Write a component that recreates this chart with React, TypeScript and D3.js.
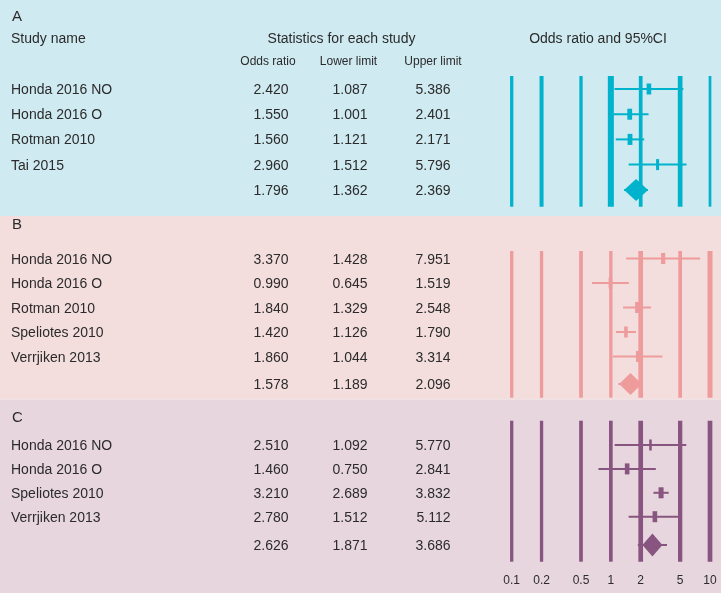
import React from "react";
import * as d3 from "d3";

// ---------- DATA ----------
const tickValues = [0.1, 0.2, 0.5, 1, 2, 5, 10];
const tickLabels = ["0.1", "0.2", "0.5", "1", "2", "5", "10"];

const studiesA = ["Honda 2016 NO", "Honda 2016 O", "Rotman 2010", "Tai 2015"];
const orA = [2.42, 1.55, 1.56, 2.96];
const lowerA = [1.087, 1.001, 1.121, 1.512];
const upperA = [5.386, 2.401, 2.171, 5.796];
const weightA = [23, 24, 24, 15];
const summaryA = [1.796, 1.362, 2.369];

const studiesB = ["Honda 2016 NO", "Honda 2016 O", "Rotman 2010", "Speliotes 2010", "Verrjiken 2013"];
const orB = [3.37, 0.99, 1.84, 1.42, 1.86];
const lowerB = [1.428, 0.645, 1.329, 1.126, 1.044];
const upperB = [7.951, 1.519, 2.548, 1.79, 3.314];
const weightB = [21, 18, 20, 18, 16];
const summaryB = [1.578, 1.189, 2.096];

const studiesC = ["Honda 2016 NO", "Honda 2016 O", "Speliotes 2010", "Verrjiken 2013"];
const orC = [2.51, 1.46, 3.21, 2.78];
const lowerC = [1.092, 0.75, 2.689, 1.512];
const upperC = [5.77, 2.841, 3.832, 5.112];
const weightC = [13, 23, 25, 23];
const summaryC = [2.626, 1.871, 3.686];

const panelLetters = ["A", "B", "C"];

// ---------- LAYOUT / STYLE ----------
const W = 721;
const H = 593;
const FONT = "'Liberation Sans', Arial, Helvetica, sans-serif";
const TEXT = "#2b2b2b";

const x = d3.scaleLog().domain([0.1, 10]).range([511.7, 710]);
const boxW = d3.scaleLinear().domain([0, 100]).range([0, 20]);
const fmt = d3.format(".3f");

const panels = [
  {
    letter: panelLetters[0], studies: studiesA, or: orA, lo: lowerA, hi: upperA, w: weightA, sum: summaryA,
    top: 0, bottom: 216, letterY: 20.7, firstRow: 89, step: 25.2, sumY: 190, lineTop: 76, lineBottom: 206.7,
    bg: "#cfeaf1", color: "#00b3cc", tickW: [3.3, 4, 3.3, 6, 3.7, 4.7, 2.7], dw: 12, dh: 11,
  },
  {
    letter: panelLetters[1], studies: studiesB, or: orB, lo: lowerB, hi: upperB, w: weightB, sum: summaryB,
    top: 216, bottom: 399.5, letterY: 228.5, firstRow: 258.5, step: 24.5, sumY: 384, lineTop: 251, lineBottom: 397.7,
    bg: "#f4dedd", color: "#ee9b9c", tickW: [3.3, 3.3, 3.7, 3.3, 4.7, 3.7, 5], dw: 11.3, dh: 11,
  },
  {
    letter: panelLetters[2], studies: studiesC, or: orC, lo: lowerC, hi: upperC, w: weightC, sum: summaryC,
    top: 399.5, bottom: 593, letterY: 421.5, firstRow: 445, step: 23.9, sumY: 545, lineTop: 420.7, lineBottom: 561.7,
    bg: "#e8d6df", color: "#87557f", tickW: [3.3, 3.3, 3.7, 3.7, 4.7, 4.3, 4.7], dw: 10, dh: 11.5,
  },
];

const colRight = [288.5, 367.5, 450.5];

function Panel({ p, isFirst, isLast }: { p: any; isFirst: boolean; isLast: boolean }) {
  const y = d3.scaleLinear().domain([0, 1]).range([p.firstRow, p.firstRow + p.step]);
  const rows = p.studies.map((name: string, i: number) => ({
    name,
    or: p.or[i],
    lo: p.lo[i],
    hi: p.hi[i],
    w: p.w[i],
    cy: y(i),
  }));
  const [sOr, sLo, sHi] = p.sum;
  const sx = x(sOr);
  return (
    <g>
      <rect x={0} y={p.top} width={W} height={p.bottom - p.top} fill={p.bg} />
      <text x={12} y={p.letterY} fontSize={15} fill={TEXT}>{p.letter}</text>
      {isFirst && (
        <g>
          <text x={11} y={43} fontSize={14} fill={TEXT}>Study name</text>
          <text x={341.5} y={43} fontSize={14} fill={TEXT} textAnchor="middle">Statistics for each study</text>
          <text x={268} y={64.5} fontSize={12} fill={TEXT} textAnchor="middle">Odds ratio</text>
          <text x={348.5} y={64.5} fontSize={12} fill={TEXT} textAnchor="middle">Lower limit</text>
          <text x={433} y={64.5} fontSize={12} fill={TEXT} textAnchor="middle">Upper limit</text>
          <text x={598} y={43.3} fontSize={14} fill={TEXT} textAnchor="middle">Odds ratio and 95%CI</text>
        </g>
      )}
      {/* reference lines */}
      {tickValues.map((t, i) => (
        <line key={"t" + i} x1={x(t)} x2={x(t)} y1={p.lineTop} y2={p.lineBottom}
          stroke={p.color} strokeWidth={p.tickW[i]} />
      ))}
      {/* studies */}
      {rows.map((r: any, i: number) => (
        <g key={"r" + i}>
          <text x={11} y={r.cy + 5} fontSize={14} fill={TEXT}>{r.name}</text>
          {[r.or, r.lo, r.hi].map((v: number, k: number) => (
            <text key={k} x={colRight[k]} y={r.cy + 5} fontSize={14} fill={TEXT} textAnchor="end">{fmt(v)}</text>
          ))}
          <line x1={x(r.lo)} x2={x(r.hi)} y1={r.cy} y2={r.cy} stroke={p.color} strokeWidth={2} />
          <rect x={x(r.or) - boxW(r.w) / 2} y={r.cy - 5.5} width={boxW(r.w)} height={11} fill={p.color} />
        </g>
      ))}
      {/* summary */}
      {[sOr, sLo, sHi].map((v: number, k: number) => (
        <text key={"s" + k} x={colRight[k]} y={p.sumY + 5} fontSize={14} fill={TEXT} textAnchor="end">{fmt(v)}</text>
      ))}
      <line x1={x(sLo)} x2={x(sHi)} y1={p.sumY} y2={p.sumY} stroke={p.color} strokeWidth={2} />
      <path
        d={`M${sx - p.dw},${p.sumY} L${sx},${p.sumY - p.dh} L${sx + p.dw},${p.sumY} L${sx},${p.sumY + p.dh} Z`}
        fill={p.color}
      />
      {isLast &&
        tickValues.map((t, i) => (
          <text key={"l" + i} x={x(t)} y={584} fontSize={12} fill={TEXT} textAnchor="middle">{tickLabels[i]}</text>
        ))}
    </g>
  );
}

export default function App() {
  return (
    <svg
      width={W}
      height={H}
      viewBox={`0 0 ${W} ${H}`}
      style={{ position: "fixed", left: 0, top: 0, display: "block" }}
      fontFamily={FONT}
    >
      {panels.map((p, i) => (
        <Panel key={i} p={p} isFirst={i === 0} isLast={i === panels.length - 1} />
      ))}
    </svg>
  );
}
